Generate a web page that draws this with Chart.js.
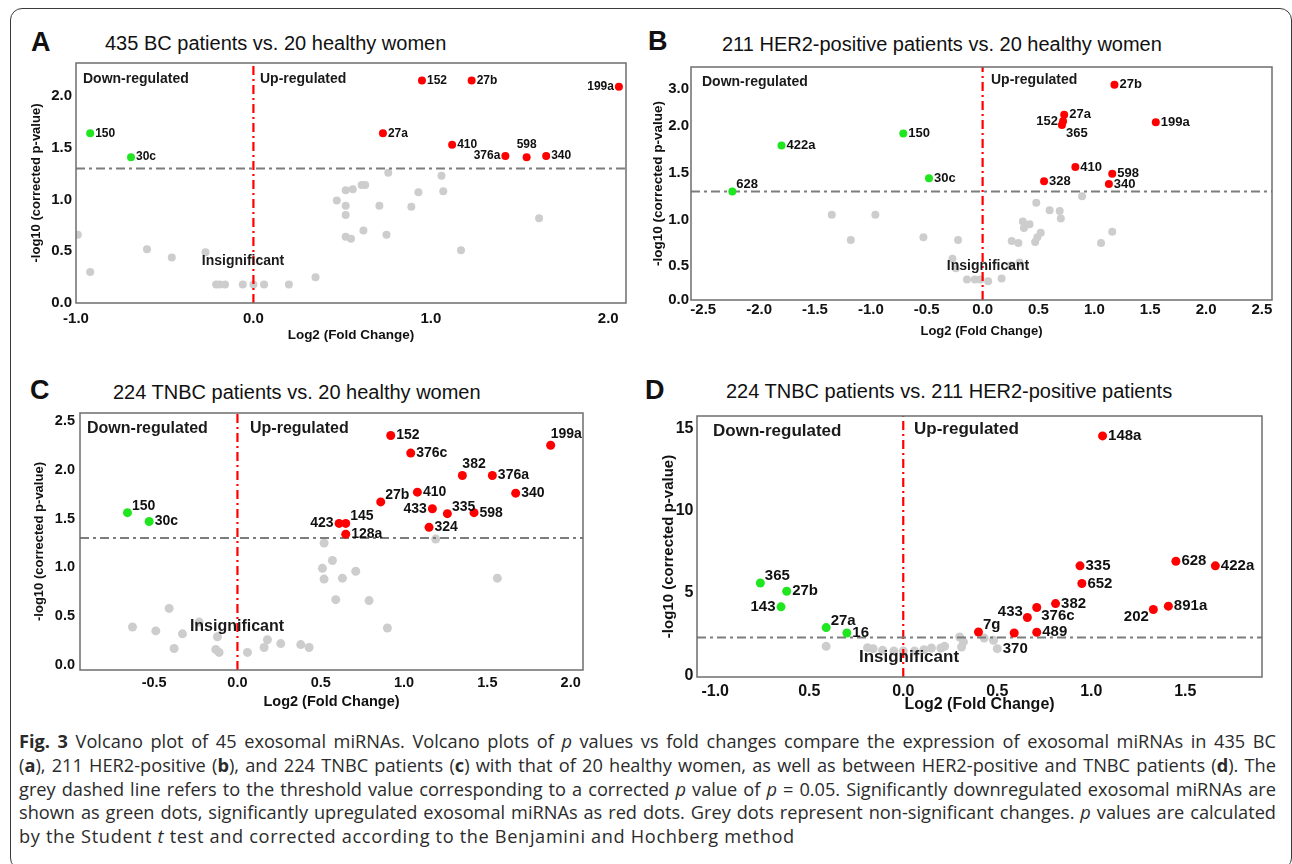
<!DOCTYPE html>
<html>
<head>
<meta charset="utf-8">
<script src="https://cdn.jsdelivr.net/npm/chart.js@4.4.1/dist/chart.umd.min.js"></script>
<style>
  body { margin: 0; width: 1292px; height: 864px; background: #fff; overflow: hidden; position: relative; font-family: "Liberation Sans", Arial, sans-serif; }
  .box { position: absolute; left: 10px; top: 8px; width: 1280px; height: 860px; border: 1px solid #3a3a3a; border-radius: 12px; }
  canvas { position: absolute; }
  .letter { position: absolute; font-weight: bold; font-size: 27px; line-height: 1; color: #111; }
  .title { position: absolute; font-size: 20px; line-height: 1; color: #111; white-space: nowrap; }
  #cap { position: absolute; left: 19px; top: 730px; width: 1257px; font-family: "Open Sans", sans-serif; font-size: 18.2px; line-height: 23.75px; color: #2b2b2b; }
  #cap div { white-space: nowrap; }
  #cap .j { text-align: justify; text-align-last: justify; }
  #cap .last { letter-spacing: 0.65px; }
</style>
</head>
<body>
<div class="box"></div>

<div class="letter" style="left:31px;top:29px">A</div>
<div class="title" style="left:105px;top:33px">435 BC patients vs. 20 healthy women</div>
<div class="letter" style="left:648px;top:28px">B</div>
<div class="title" style="left:722px;top:34px">211 HER2-positive patients vs. 20 healthy women</div>
<div class="letter" style="left:30px;top:377px">C</div>
<div class="title" style="left:113px;top:382px">224 TNBC patients vs. 20 healthy women</div>
<div class="letter" style="left:645px;top:377px">D</div>
<div class="title" style="left:726px;top:381px">224 TNBC patients vs. 211 HER2-positive patients</div>

<canvas id="chartA" width="638" height="300" style="left:-4px;top:53px"></canvas>
<canvas id="chartB" width="669" height="293" style="left:611px;top:57px"></canvas>
<canvas id="chartC" width="591" height="317" style="left:0px;top:403px"></canvas>
<canvas id="chartD" width="653" height="321" style="left:617px;top:406px"></canvas>

<div id="cap">
  <div class="j"><b>Fig. 3</b> Volcano plot of 45 exosomal miRNAs. Volcano plots of <i>p</i> values vs fold changes compare the expression of exosomal miRNAs in 435 BC</div>
  <div class="j">(<b>a</b>), 211 HER2-positive (<b>b</b>), and 224 TNBC patients (<b>c</b>) with that of 20 healthy women, as well as between HER2-positive and TNBC patients (<b>d</b>). The</div>
  <div class="j">grey dashed line refers to the threshold value corresponding to a corrected <i>p</i> value of <i>p</i> = 0.05. Significantly downregulated exosomal miRNAs are</div>
  <div class="j">shown as green dots, significantly upregulated exosomal miRNAs as red dots. Grey dots represent non-significant changes. <i>p</i> values are calculated</div>
  <div class="last">by the Student <i>t</i> test and corrected according to the Benjamini and Hochberg method</div>
</div>

<script>
// A: 435 BC vs 20 healthy
const aGreenName = ['150', '30c']
const aGreenX = [-0.92, -0.69]
const aGreenY = [1.64, 1.41]
const aRedName = ['152', '27b', '199a', '27a', '410', '376a', '598', '340']
const aRedX = [0.95, 1.23, 2.06, 0.73, 1.12, 1.42, 1.54, 1.65]
const aRedY = [2.15, 2.15, 2.09, 1.64, 1.53, 1.42, 1.41, 1.42]
const aGreyX = [-0.99, -0.92, -0.60, -0.46, -0.27, -0.21, -0.19, -0.16, -0.06, 0.00, 0.06, 0.20, 0.35, 0.47, 0.52, 0.56,
  0.61, 0.63, 0.52, 0.52, 0.52, 0.55, 0.62, 0.71, 0.75, 0.76, 0.89, 0.93, 1.06, 1.07, 1.17, 1.61]
const aGreyY = [0.66, 0.30, 0.52, 0.44, 0.49, 0.18, 0.18, 0.18, 0.18, 0.18, 0.18, 0.18, 0.25, 0.99, 1.09, 1.10,
  1.14, 1.14, 0.94, 0.85, 0.64, 0.62, 0.70, 0.94, 0.66, 1.26, 0.93, 1.07, 1.23, 1.08, 0.51, 0.82]
const aXTicks = [-1, 0, 1, 2]
const aXLabels = ['-1.0', '0.0', '1.0', '2.0']
const aYTicks = [0, 0.5, 1, 1.5, 2]
const aYLabels = ['0.0', '0.5', '1.0', '1.5', '2.0']

// B: 211 HER2-positive vs 20 healthy
const bGreenName = ['628', '422a', '150', '30c']
const bGreenX = [-2.24, -1.80, -0.71, -0.48]
const bGreenY = [1.30, 1.79, 1.92, 1.44]
const bRedName = ['27b', '27a', '152', '365', '199a', '410', '598', '340', '328']
const bRedX = [1.18, 0.73, 0.72, 0.71, 1.55, 0.83, 1.16, 1.13, 0.55]
const bRedY = [2.44, 2.12, 2.05, 2.01, 2.04, 1.56, 1.49, 1.38, 1.41]
const bGreyX = [-1.35, -0.96, -1.18, -0.53, -0.22, -0.27, -0.24, -0.14, -0.07, -0.02, 0.05, 0.17, 0.89, 0.48, 0.60,
  0.69, 0.70, 0.36, 0.42, 0.37, 0.52, 0.49, 0.47, 0.26, 0.32, 1.16, 1.06, 0.33, 0.25]
const bGreyY = [1.05, 1.05, 0.78, 0.81, 0.78, 0.58, 0.48, 0.36, 0.36, 0.36, 0.34, 0.37, 1.25, 1.18, 1.10,
  1.09, 1.01, 0.98, 0.95, 0.91, 0.86, 0.81, 0.76, 0.77, 0.75, 0.87, 0.75, 0.54, 0.51]
const bXTicks = [-2.5, -2, -1.5, -1, -0.5, 0, 0.5, 1, 1.5, 2, 2.5]
const bXLabels = ['-2.5', '-2.0', '-1.5', '-1.0', '-0.5', '0.0', '0.5', '1.0', '1.5', '2.0', '2.5']
const bYTicks = [0.14, 0.5, 1, 1.5, 2, 2.4]
const bYLabels = ['0.0', '0.5', '1.0', '1.5', '2.0', '3.0']

// C: 224 TNBC vs 20 healthy
const cGreenName = ['150', '30c']
const cGreenX = [-0.66, -0.53]
const cGreenY = [1.56, 1.47]
const cRedName = ['423', '145', '128a', '27b', '410', '152', '376c', '382', '376a', '199a', '340', '433', '335', '598', '324']
const cRedX = [0.61, 0.65, 0.65, 0.86, 1.08, 0.92, 1.04, 1.35, 1.53, 1.88, 1.67, 1.17, 1.26, 1.42, 1.15]
const cRedY = [1.45, 1.45, 1.34, 1.67, 1.77, 2.35, 2.17, 1.94, 1.94, 2.25, 1.76, 1.60, 1.55, 1.56, 1.41]
const cGreyX = [-0.41, -0.63, -0.49, -0.33, -0.38, -0.23, -0.12, -0.13, -0.11, 0.06, 0.16, 0.18, 0.26, 0.38, 0.43,
  0.52, 0.57, 0.51, 0.52, 0.59, 0.63, 0.71, 0.79, 0.90, 1.19, 1.56]
const cGreyY = [0.58, 0.39, 0.35, 0.32, 0.17, 0.44, 0.29, 0.16, 0.13, 0.13, 0.18, 0.26, 0.22, 0.21, 0.18,
  1.25, 1.07, 0.99, 0.88, 0.67, 0.89, 0.96, 0.66, 0.38, 1.29, 0.89]
const cXTicks = [-0.5, 0, 0.5, 1, 1.5, 2]
const cXLabels = ['-0.5', '0.0', '0.5', '1.0', '1.5', '2.0']
const cYTicks = [0, 0.5, 1, 1.5, 2, 2.5]
const cYLabels = ['0.0', '0.5', '1.0', '1.5', '2.0', '2.5']

// D: 224 TNBC vs 211 HER2-positive
const dGreenName = ['365', '27b', '143', '27a', '16']
const dGreenX = [-0.76, -0.62, -0.65, -0.41, -0.30]
const dGreenY = [5.61, 5.11, 4.16, 2.90, 2.57]
const dRedName = ['7g', '', '489', '433', '376c', '382', '335', '652', '148a', '628', '422a', '202', '891a']
const dRedX = [0.40, 0.59, 0.71, 0.66, 0.71, 0.81, 0.94, 0.95, 1.06, 1.45, 1.66, 1.33, 1.41]
const dRedY = [2.63, 2.57, 2.62, 3.51, 4.12, 4.36, 6.65, 5.58, 14.54, 6.93, 6.65, 4.00, 4.20]
const dGreyName = ['', '', '', '', '', '', '', '', '', '', '', '', '', '', '', '', '370']
const dGreyX = [-0.41, -0.19, -0.16, -0.11, -0.05, 0.00, 0.06, 0.11, 0.15, 0.20, 0.22, 0.30, 0.32, 0.31, 0.43, 0.48, 0.50]
const dGreyY = [1.76, 1.68, 1.62, 1.52, 1.48, 1.48, 1.48, 1.56, 1.66, 1.66, 1.76, 2.33, 2.03, 1.72, 2.27, 2.13, 1.62]
const dXTicks = [-1, -0.5, 0, 0.5, 1, 1.5]
const dXLabels = ['-1.0', '0.5', '0.0', '0.5', '1.0', '1.5']
const dYTicks = [0, 5, 10, 15]
const dYLabels = ['0', '5', '10', '15']

// label placement next to each dot
const aGreenSide = ['r', 'r']
const aRedSide = ['r', 'r', 'l', 'r', 'r', 'l', 't', 'r']
const bGreenSide = ['tr', 'r', 'r', 'r']
const bRedSide = ['r', 'r', 'l', 'br', 'r', 'r', 'r', 'r', 'r']
const cGreenSide = ['tr', 'r']
const cRedSide = ['l', 'tr', 'r', 'tr', 'r', 'r', 'r', 'ur', 'r', 'ur', 'r', 'l', 'tr', 'r', 'r']
const dGreenSide = ['tr', 'r', 'l', 'tr', 'r']
const dRedSide = ['tr', 'r', 'r', 'tl', 'br', 'r', 'r', 'r', 'r', 'r', 'r', 'bl', 'r']

const FONT = '"Liberation Sans", Arial, sans-serif'
const GREY = '#cdcdcd'
const RED = '#ff0000'
const GREEN = '#1fe61f'

Chart.defaults.font.family = FONT
Chart.defaults.color = '#111'

const pts = (xs, ys) => xs.map((x, i) => ({ x, y: ys[i] }))

const pointNames = {
  id: 'pointNames',
  afterDatasetsDraw (chart, _args, opts) {
    const { ctx } = chart
    ctx.save()
    ctx.font = `bold ${opts.size}px ${FONT}`
    ctx.fillStyle = '#111'
    ctx.textBaseline = 'middle'
    chart.data.datasets.forEach((ds, i) => {
      if (!ds.names) { return }
      chart.getDatasetMeta(i).data.forEach((el, j) => {
        const name = ds.names[j]
        if (!name) { return }
        const side = ds.sides ? ds.sides[j] : 'r'
        const r = ds.pointRadius + 1
        let x = el.x
        let y = el.y
        let align = 'left'
        if (side === 'r') { x += r }
        if (side === 'l') { x -= r; align = 'right' }
        if (side === 't') { y -= r + 7; align = 'center' }
        if (side === 'tr') { x += r - 1; y -= 7 }
        if (side === 'ur') { y -= 11 }
        if (side === 'br') { x += r - 1; y += 8 }
        if (side === 'tl') { x -= r - 1; y -= 6; align = 'right' }
        if (side === 'bl') { x -= r - 1; y += 7; align = 'right' }
        ctx.textAlign = align
        ctx.fillText(name, x, y)
      })
    })
    ctx.restore()
  },
}

// region captions + the box round the plot area
const notes = {
  id: 'notes',
  afterDatasetsDraw (chart, _args, opts) {
    const { ctx, chartArea: area } = chart
    ctx.save()
    ctx.font = `bold ${opts.size}px ${FONT}`
    ctx.fillStyle = '#1a1a1a'
    ctx.textBaseline = 'middle'
    opts.items.forEach((n) => {
      ctx.textAlign = n.center ? 'center' : 'left'
      ctx.fillText(n.text, area.left + n.dx, area.top + n.dy)
    })
    ctx.strokeStyle = '#6e6e6e'
    ctx.lineWidth = 1.5
    ctx.strokeRect(area.left, area.top, area.width, area.height)
    ctx.restore()
  },
}

const volcano = (id, p) => {
  const dot = (xs, ys, color, names, sides, order) => ({
    data: pts(xs, ys),
    names,
    sides,
    backgroundColor: color,
    borderWidth: 0,
    pointRadius: p.r,
    order,
  })
  const datasets = [
    dot(p.greyX, p.greyY, GREY, p.greyName, null, 3),
    {
      data: [{ x: p.x[0], y: p.thr }, { x: p.x[1], y: p.thr }],
      showLine: true,
      borderColor: '#7d7d7d',
      borderWidth: 2,
      borderDash: [9, 4, 3, 4],
      pointRadius: 0,
      order: 2,
    },
    {
      data: [{ x: 0, y: p.y[0] }, { x: 0, y: p.y[1] }],
      showLine: true,
      borderColor: RED,
      borderWidth: 2.2,
      borderDash: [9, 4, 2, 4],
      pointRadius: 0,
      order: 2,
    },
    dot(p.greenX, p.greenY, GREEN, p.greenName, p.greenSide, 1),
    dot(p.redX, p.redY, RED, p.redName, p.redSide, 1),
  ]

  /* eslint-disable no-new */
  new Chart(document.getElementById(id), {
    type: 'scatter',
    data: { datasets },
    plugins: [pointNames, notes],
    options: {
      responsive: false,
      animation: false,
      layout: { padding: { left: 0, top: 10, right: 8, bottom: 0 } },
      plugins: {
        legend: { display: false },
        tooltip: { enabled: false },
        pointNames: { size: p.nameSize },
        notes: { size: p.noteSize, items: p.notes },
      },
      scales: {
        x: {
          type: 'linear',
          min: p.x[0],
          max: p.x[1],
          afterFit: (s) => {
            s.height = 50
            s.paddingLeft = 0
            s.paddingRight = 0
          },
          afterBuildTicks: (s) => { s.ticks = p.xTicks.map((value) => ({ value })) },
          grid: { display: false, drawTicks: false },
          border: { display: false },
          ticks: {
            callback: (_v, i) => p.xLabels[i],
            font: { size: p.tickSize, weight: 'bold' },
            padding: p.xPad,
            maxRotation: 0,
            autoSkip: false,
          },
          title: {
            display: true,
            text: 'Log2 (Fold Change)',
            font: { size: p.xTitleSize, weight: 'bold' },
            padding: { top: 0, bottom: p.xTitlePad },
          },
        },
        y: {
          type: 'linear',
          min: p.y[0],
          max: p.y[1],
          afterFit: (s) => {
            s.width = 80
            s.paddingTop = 0
            s.paddingBottom = 0
          },
          afterBuildTicks: (s) => { s.ticks = p.yTicks.map((value) => ({ value })) },
          grid: { display: false, drawTicks: false },
          border: { display: false },
          ticks: {
            callback: (_v, i) => p.yLabels[i],
            font: { size: p.tickSize, weight: 'bold' },
            padding: p.yPad,
            autoSkip: false,
          },
          title: {
            display: true,
            text: '-log10 (corrected p-value)',
            font: { size: p.yTitleSize, weight: 'bold' },
            padding: { top: p.yTitlePad, bottom: 0 },
          },
        },
      },
    },
  })
}

volcano('chartA', {
  greenName: aGreenName, greenX: aGreenX, greenY: aGreenY, greenSide: aGreenSide,
  redName: aRedName, redX: aRedX, redY: aRedY, redSide: aRedSide,
  greyName: null, greyX: aGreyX, greyY: aGreyY,
  xTicks: aXTicks, xLabels: aXLabels, yTicks: aYTicks, yLabels: aYLabels,
  x: [-1, 2.1], y: [0, 2.32], thr: 1.3, r: 4,
  tickSize: 15, xPad: 7, yPad: 4, xTitleSize: 13.5, xTitlePad: 10, yTitleSize: 13, yTitlePad: 33,
  nameSize: 12, noteSize: 14,
  notes: [
    { text: 'Down-regulated', dx: 7, dy: 16 },
    { text: 'Up-regulated', dx: 184, dy: 16 },
    { text: 'Insignificant', center: true, dx: 167, dy: 198 },
  ],
})

volcano('chartB', {
  greenName: bGreenName, greenX: bGreenX, greenY: bGreenY, greenSide: bGreenSide,
  redName: bRedName, redX: bRedX, redY: bRedY, redSide: bRedSide,
  greyName: null, greyX: bGreyX, greyY: bGreyY,
  xTicks: bXTicks, xLabels: bXLabels, yTicks: bYTicks, yLabels: bYLabels,
  x: [-2.61, 2.59], y: [0.14, 2.63], thr: 1.3, r: 4,
  tickSize: 15, xPad: 1, yPad: 2, xTitleSize: 13, xTitlePad: 10.5, yTitleSize: 13.5, yTitlePad: 39,
  nameSize: 13, noteSize: 14,
  notes: [
    { text: 'Down-regulated', dx: 11, dy: 15 },
    { text: 'Up-regulated', dx: 300, dy: 13 },
    { text: 'Insignificant', center: true, dx: 297, dy: 199 },
  ],
})

volcano('chartC', {
  greenName: cGreenName, greenX: cGreenX, greenY: cGreenY, greenSide: cGreenSide,
  redName: cRedName, redX: cRedX, redY: cRedY, redSide: cRedSide,
  greyName: null, greyX: cGreyX, greyY: cGreyY,
  xTicks: cXTicks, xLabels: cXLabels, yTicks: cYTicks, yLabels: cYLabels,
  x: [-0.945, 2.074], y: [-0.05, 2.58], thr: 1.3, r: 4.5,
  tickSize: 14.5, xPad: 4.5, yPad: 5, xTitleSize: 14.5, xTitlePad: 9.5, yTitleSize: 13, yTitlePad: 32,
  nameSize: 14, noteSize: 16,
  notes: [
    { text: 'Down-regulated', dx: 7, dy: 16 },
    { text: 'Up-regulated', dx: 170, dy: 16 },
    { text: 'Insignificant', center: true, dx: 157, dy: 214 },
  ],
})

volcano('chartD', {
  greenName: dGreenName, greenX: dGreenX, greenY: dGreenY, greenSide: dGreenSide,
  redName: dRedName, redX: dRedX, redY: dRedY, redSide: dRedSide,
  greyName: dGreyName, greyX: dGreyX, greyY: dGreyY,
  xTicks: dXTicks, xLabels: dXLabels, yTicks: dYTicks, yLabels: dYLabels,
  x: [-1.097, 1.908], y: [-0.1, 15.75], thr: 2.3, r: 4.5,
  tickSize: 16, xPad: 5, yPad: 3.5, xTitleSize: 16, xTitlePad: 12.5, yTitleSize: 15, yTitlePad: 42.5,
  nameSize: 15, noteSize: 17,
  notes: [
    { text: 'Down-regulated', dx: 16, dy: 15 },
    { text: 'Up-regulated', dx: 217, dy: 13 },
    { text: 'Insignificant', center: true, dx: 212, dy: 241 },
  ],
})
</script>
</body>
</html>
